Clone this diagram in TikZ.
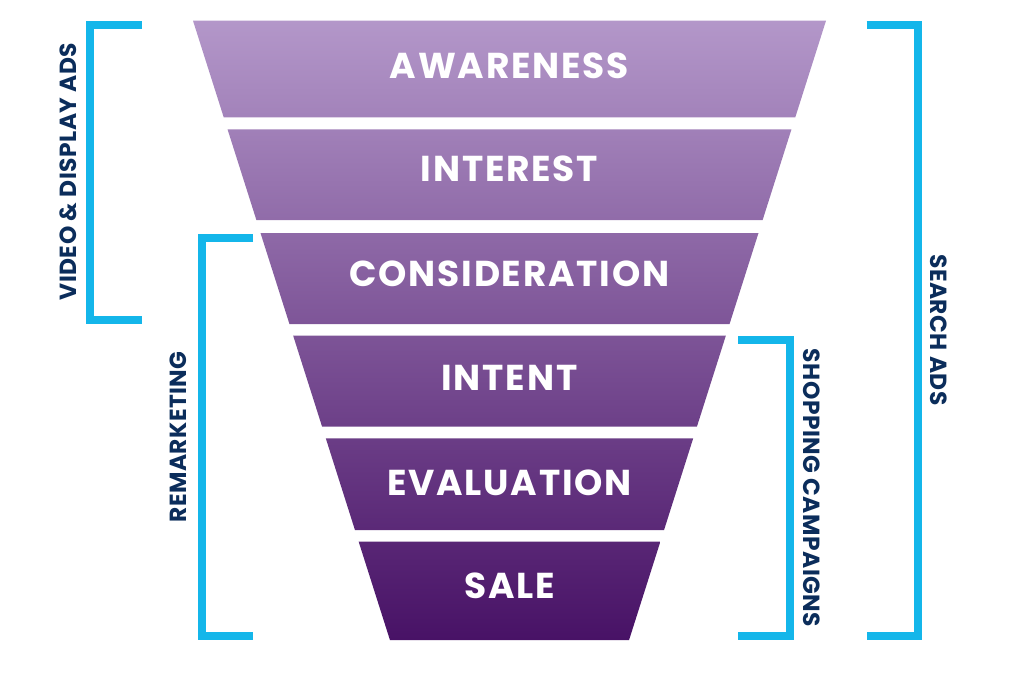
\documentclass[tikz,border=0pt]{standalone}
\usepackage{fontspec}
\setsansfont{Poppins}
\newfontfamily\stagefont[LetterSpace=5]{Poppins}
\newfontfamily\sidefont[LetterSpace=2]{Poppins}
\usepackage{tikz}
\usetikzlibrary{positioning}
\definecolor{funneltop}{RGB}{180,152,202}
\definecolor{funnelbot}{RGB}{72,18,102}
\definecolor{bracketblue}{RGB}{20,182,234}
\definecolor{labelnavy}{RGB}{11,45,91}

\begin{document}
\begin{tikzpicture}[x=0.75pt, y=-0.75pt, stagelabel/.style={anchor=base,text=white,font=\stagefont\bfseries\fontsize{27}{27}\selectfont,inner sep=0pt}, sidelabel/.style={text=labelnavy,font=\sidefont\bfseries\fontsize{17.5}{17.5}\selectfont,inner sep=0pt}, bracket/.style={draw=bracketblue,line width=6pt,miter limit=10}]
\useasboundingbox (0,0) rectangle (1024,683);
% funnel stages: name / top y / bottom y / text / baseline
\foreach \name/\yt/\yb/\lbl/\base in {awareness/20.7/117.3/AWARENESS/78.3, interest/129.3/220/INTEREST/181.7, consideration/233/324/CONSIDERATION/286, intent/335.7/426.7/INTENT/390, evaluation/438.3/530/EVALUATION/495, sale/541.7/640/SALE/598.3}{
  \pgfmathsetmacro\wt{316.5-0.318*(\yt-20.7)}
  \pgfmathsetmacro\wb{316.5-0.318*(\yb-20.7)}
  \pgfmathtruncatemacro\pt{100-(\yt-20)/6.2}
  \pgfmathtruncatemacro\pb{100-(\yb-20)/6.2}
  \path[top color=funneltop!\pt!funnelbot, bottom color=funneltop!\pb!funnelbot] (509.5-\wt,\yt) -- (509.5+\wt,\yt) -- (509.5+\wb,\yb) -- (509.5-\wb,\yb) -- cycle;
  \node[stagelabel] (\name) at (509.5,\base) {\lbl};
}
% brackets
\draw[bracket] (141.7,24.5) -- (90,24.5) -- (90,320) -- (141.7,320);
\draw[bracket] (253,237.5) -- (202.3,237.5) -- (202.3,636) -- (253,636);
\draw[bracket] (738,340) -- (790,340) -- (790,636) -- (738,636);
\draw[bracket] (866.7,24.8) -- (917.5,24.8) -- (917.5,636) -- (866.7,636);
\node[sidelabel,rotate=90] (video) at (68.6,171.5) {VIDEO \& DISPLAY ADS};
\node[sidelabel,rotate=90] (remarketing) at (178.5,437) {REMARKETING};
\node[sidelabel,rotate=-90] (shopping) at (811.5,488) {SHOPPING CAMPAIGNS};
\node[sidelabel,rotate=-90] (search) at (939,330) {SEARCH ADS};
\end{tikzpicture}
\end{document}
